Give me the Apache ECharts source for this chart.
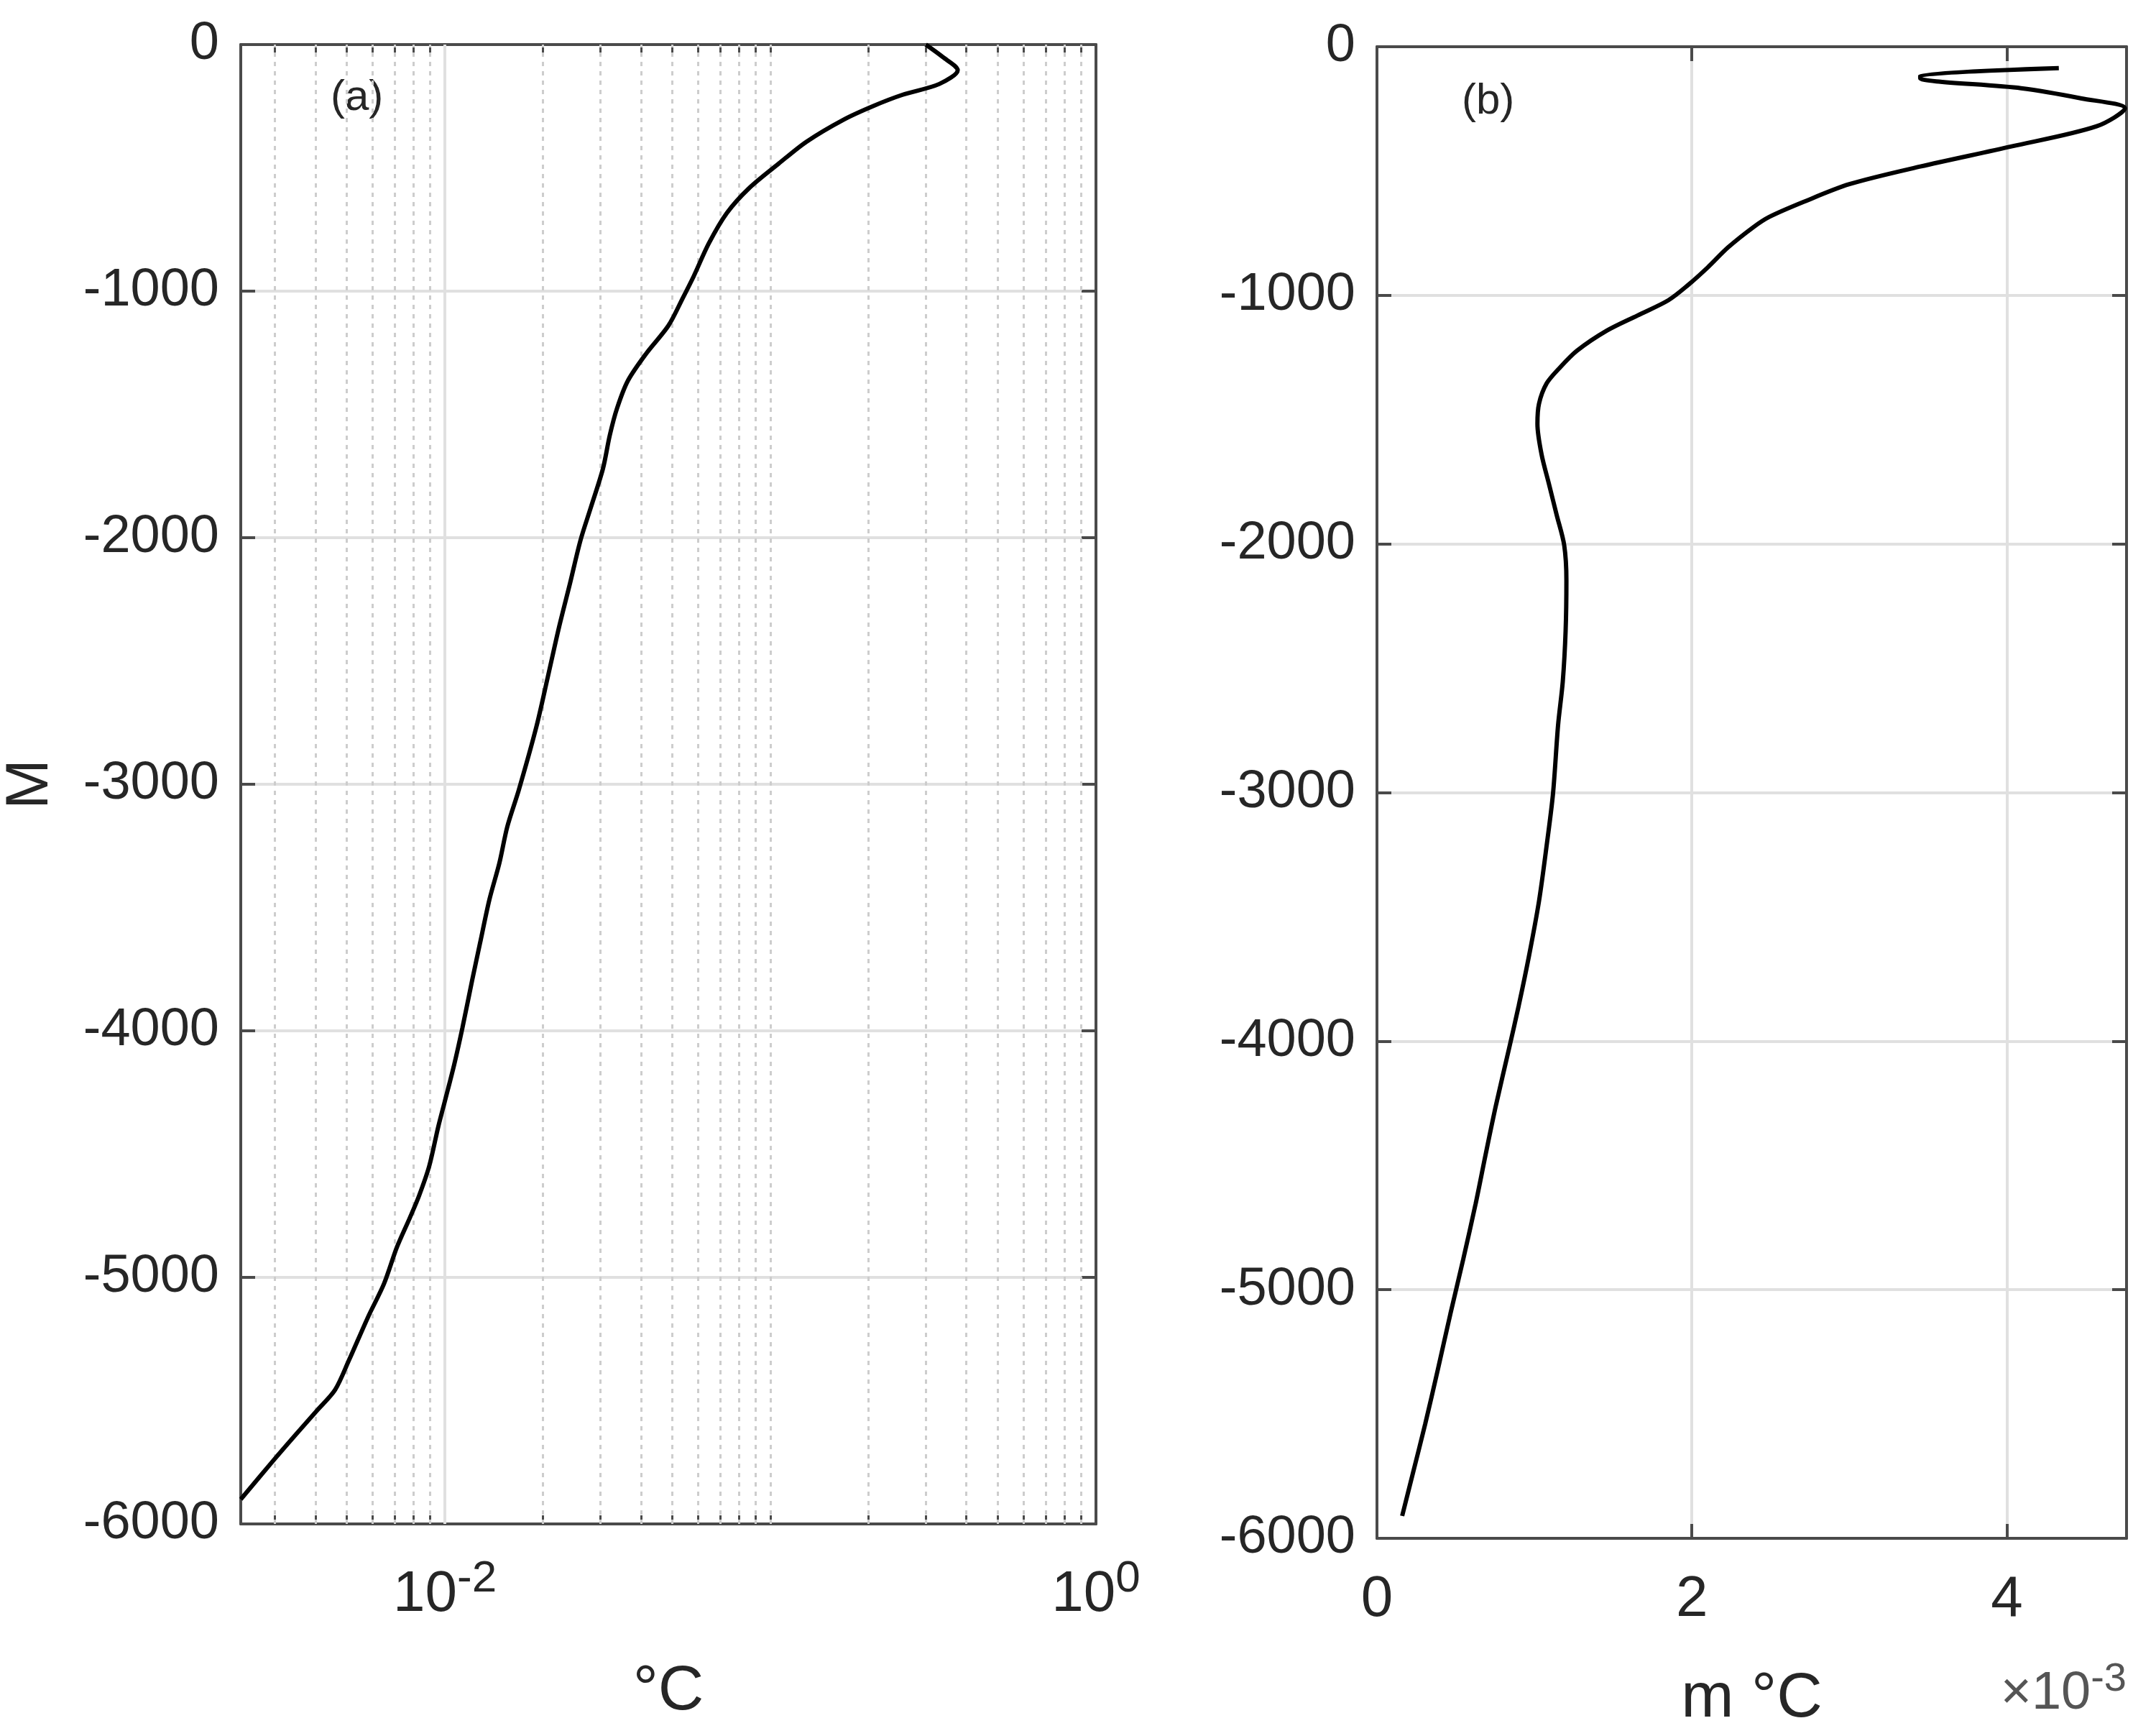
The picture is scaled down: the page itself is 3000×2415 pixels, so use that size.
<!DOCTYPE html>
<html>
<head>
<meta charset="utf-8">
<script src="https://cdn.jsdelivr.net/npm/echarts@6/dist/echarts.min.js"></script>
<style>
html,body{margin:0;padding:0;background:#fff;}
#c{width:3000px;height:2415px;}
</style>
</head>
<body>
<div id="c"></div>
<script>
// ---------- data ----------
// Panel (a): temperature scale (°C) vs depth (m), log x-axis
const depthA = [0, -50, -104, -160, -204, -249, -304, -394, -483, -583, -683, -806, -940, -1028, -1140, -1252, -1363, -1475, -1585, -1719, -1876, -2010, -2188, -2365, -2566, -2767, -3023, -3172, -3320, -3468, -3645, -3794, -3988, -4137, -4285, -4387, -4549, -4669, -4759, -4878, -5026, -5160, -5337, -5456, -5538, -5640, -5741, -5900];
const valueA = [0.300, 0.338, 0.376, 0.330, 0.254, 0.207, 0.168, 0.129, 0.106, 0.0859, 0.0735, 0.0647, 0.0581, 0.0538, 0.0486, 0.0416, 0.0365, 0.0338, 0.0321, 0.0306, 0.0281, 0.0261, 0.0242, 0.0224, 0.0207, 0.0191, 0.01687, 0.01555, 0.01470, 0.01370, 0.01282, 0.01213, 0.01132, 0.01068, 0.0100, 0.00955, 0.00895, 0.00833, 0.00780, 0.00712, 0.00650, 0.00581, 0.00507, 0.00460, 0.00406, 0.00347, 0.00298, 0.00236];

// Panel (b): m °C vs depth (m)
const depthB = [-86, -116, -127, -167, -208, -248, -320, -401, -482, -553, -624, -685, -726, -807, -888, -959, -1020, -1081, -1142, -1223, -1294, -1355, -1436, -1517, -1639, -1761, -1883, -2005, -2147, -2350, -2553, -2730, -3004, -3216, -3437, -3659, -3858, -4035, -4257, -4456, -4656, -4877, -5098, -5320, -5541, -5741, -5910];
const valueB = [0.00433, 0.00345, 0.00345, 0.00409, 0.004475, 0.00475, 0.00457, 0.00403, 0.00345, 0.00300, 0.00271, 0.00249, 0.00239, 0.00223, 0.00210, 0.001975, 0.00185, 0.001655, 0.00146, 0.00127, 0.001157, 0.001077, 0.001029, 0.001019, 0.001045, 0.001093, 0.001141, 0.001189, 0.001203, 0.001198, 0.00118, 0.00115, 0.001118, 0.001077, 0.001029, 0.000965, 0.000900, 0.000837, 0.000756, 0.000690, 0.000626, 0.000548, 0.000466, 0.000387, 0.000306, 0.000227, 0.00016];

// tick structure
const majorTicksA = [0.01, 1];
const majorGridA = [0.01];
const minorTicksA = [0.003, 0.004, 0.005, 0.006, 0.007, 0.008, 0.009,
                     0.02, 0.03, 0.04, 0.05, 0.06, 0.07, 0.08, 0.09,
                     0.1, 0.2, 0.3, 0.4, 0.5, 0.6, 0.7, 0.8, 0.9];

// ---------- styling ----------
const FONT = "'Liberation Sans', Arial, Helvetica, sans-serif";
const TXT = '#262626';
const AX = '#4a4a4a';
const GRID = '#e0e0e0';

const chart = echarts.init(document.getElementById('c'), null, {renderer: 'canvas'});

const pairsA = valueA.map((v, i) => [v, depthA[i]]);
const pairsB = valueB.map((v, i) => [v, depthB[i]]);
const allTicksA = minorTicksA.concat(majorTicksA).sort((a, b) => a - b);

function yAx(gridIndex, position, showLabel) {
  return {
    type: 'value', gridIndex, position, min: -6000, max: 0, interval: 1000,
    axisLine: {show: true, onZero: false, lineStyle: {color: AX, width: 4}},
    axisTick: {show: true, inside: true, length: 20, lineStyle: {color: AX, width: 4}},
    axisLabel: {show: showLabel, margin: 30, color: TXT, fontFamily: FONT, fontSize: 74,
                formatter: v => String(v)},
    splitLine: {show: showLabel, lineStyle: {color: GRID, width: 4}},
    name: (gridIndex === 0 && showLabel) ? 'M' : '',
    nameLocation: 'middle', nameGap: 250,
    nameTextStyle: {color: TXT, fontFamily: FONT, fontSize: 84}
  };
}

function xLogAx(position, showLabel) {
  return {
    type: 'log', logBase: 10, gridIndex: 0, position, min: 0.00236, max: 1,
    axisLine: {show: true, onZero: false, lineStyle: {color: AX, width: 4}},
    axisTick: {show: true, inside: true, length: 12, customValues: allTicksA,
               lineStyle: {color: AX, width: 3}},
    axisLabel: {show: showLabel, margin: 46, customValues: majorTicksA, color: TXT, fontFamily: FONT,
      formatter: v => '{b|10}{s|' + Math.round(Math.log10(v)) + '}',
      rich: {
        b: {fontSize: 80, fontFamily: FONT, color: TXT, lineHeight: 80, padding: [26, 0, 0, 0]},
        s: {fontSize: 62, fontFamily: FONT, color: TXT, verticalAlign: 'top', lineHeight: 62}
      }},
    splitLine: {show: false},
    name: showLabel ? '°C' : '', nameLocation: 'middle', nameGap: 190,
    nameTextStyle: {color: TXT, fontFamily: FONT, fontSize: 88}
  };
}

function xValAx(position, showLabel) {
  return {
    type: 'value', gridIndex: 1, position, min: 0, max: 0.00476, interval: 0.002,
    axisLine: {show: true, onZero: false, lineStyle: {color: AX, width: 4}},
    axisTick: {show: true, inside: true, length: 20, lineStyle: {color: AX, width: 4}},
    axisLabel: {show: showLabel, margin: 46, color: TXT, fontFamily: FONT, fontSize: 80,
                showMaxLabel: false,
                formatter: v => String(Math.round(v * 1000))},
    splitLine: {show: showLabel, lineStyle: {color: GRID, width: 4}},
    name: showLabel ? 'm °C' : '', nameLocation: 'middle', nameGap: 180,
    nameTextStyle: {color: TXT, fontFamily: FONT, fontSize: 88}
  };
}

const option = {
  backgroundColor: '#ffffff',
  animation: false,
  grid: [
    {left: 332, top: 62, width: 1193, height: 2058, containLabel: false},
    {left: 1916, top: 65, width: 1043, height: 2075, containLabel: false}
  ],
  xAxis: [xLogAx('bottom', true), xLogAx('top', false), xValAx('bottom', true), xValAx('top', false)],
  yAxis: [yAx(0, 'left', true), yAx(0, 'right', false), yAx(1, 'left', true), yAx(1, 'right', false)],
  series: [
    {
      type: 'line', xAxisIndex: 0, yAxisIndex: 0, data: [], silent: true, z: 1,
      markLine: {
        silent: true, precision: 8, symbol: ['none', 'none'], label: {show: false}, animation: false,
        lineStyle: {color: '#cdcdcd', width: 3, type: [6, 7]},
        data: minorTicksA.map(v => ({xAxis: v}))
      }
    },
    {
      type: 'line', xAxisIndex: 0, yAxisIndex: 0, data: [], silent: true, z: 1,
      markLine: {
        silent: true, precision: 8, symbol: ['none', 'none'], label: {show: false}, animation: false,
        lineStyle: {color: GRID, width: 4, type: 'solid'},
        data: majorGridA.map(v => ({xAxis: v}))
      }
    },
    {
      name: 'a', type: 'line', xAxisIndex: 0, yAxisIndex: 0, data: pairsA,
      showSymbol: false, symbol: 'none', smooth: 0.3, z: 5,
      lineStyle: {color: '#000000', width: 6}
    },
    {
      name: 'b', type: 'line', xAxisIndex: 2, yAxisIndex: 2, data: pairsB,
      showSymbol: false, symbol: 'none', smooth: 0.3, z: 5,
      lineStyle: {color: '#000000', width: 6}
    }
  ],
  graphic: [
    {type: 'text', left: 460, top: 106, style: {text: '(a)', font: "60px " + FONT, fill: TXT}},
    {type: 'text', left: 2034, top: 111, style: {text: '(b)', font: "60px " + FONT, fill: TXT}},
    {type: 'text', right: 41, top: 2298, style: {
      text: '{b|×10}{s|-3}', fill: '#555',
      rich: {
        b: {fontSize: 74, fontFamily: FONT, fill: '#555', lineHeight: 74, padding: [22, 0, 0, 0]},
        s: {fontSize: 56, fontFamily: FONT, fill: '#555', verticalAlign: 'top', lineHeight: 56}
      }}}
  ]
};
chart.setOption(option);
</script>
</body>
</html>
